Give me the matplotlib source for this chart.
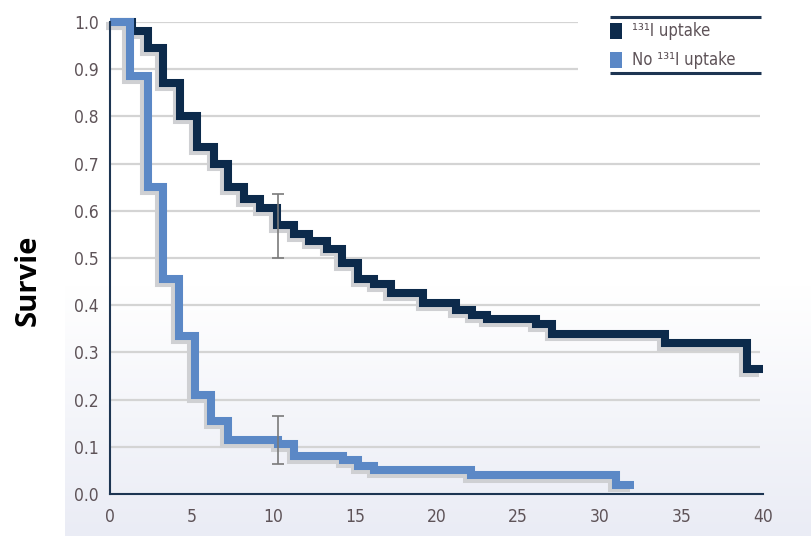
import numpy as np
import matplotlib
matplotlib.use("Agg")
import matplotlib.pyplot as plt
import matplotlib.patheffects as pe
from matplotlib.lines import Line2D
from matplotlib.patches import Rectangle
from matplotlib import font_manager as fm

# Kaplan-Meier step data (time in months, survival fraction)
uptake_t = [0, 1.35, 2.3, 3.25, 4.3, 5.3, 6.4, 7.2, 8.2, 9.2, 10.2, 11.3, 12.2,
            13.3, 14.2, 15.2, 16.2, 17.2, 19.2, 21.2, 22.2, 23.1, 26.1, 27.1,
            34.0, 39.0, 40.0]
uptake_s = [1.0, 0.98, 0.945, 0.87, 0.80, 0.735, 0.70, 0.65, 0.625, 0.605, 0.57,
            0.55, 0.535, 0.52, 0.49, 0.455, 0.445, 0.425, 0.405, 0.39, 0.38,
            0.37, 0.36, 0.34, 0.32, 0.265, 0.265]

no_uptake_t = [0, 1.2, 2.3, 3.25, 4.2, 5.2, 6.2, 7.2, 10.3, 11.3, 14.3, 15.2,
               16.2, 22.1, 31.0, 32.1]
no_uptake_s = [1.0, 0.885, 0.65, 0.455, 0.335, 0.21, 0.155, 0.115, 0.105, 0.08,
               0.072, 0.06, 0.05, 0.04, 0.02, 0.02]

# confidence bars at t = 10.3
ci_t = 10.3
uptake_ci = (0.50, 0.635)
no_uptake_ci = (0.063, 0.165)

x_ticks = [0, 5, 10, 15, 20, 25, 30, 35, 40]
y_ticks = [0.0, 0.1, 0.2, 0.3, 0.4, 0.5, 0.6, 0.7, 0.8, 0.9, 1.0]
legend_labels = ["\u00b9\u00b3\u00b9I uptake", "No \u00b9\u00b3\u00b9I uptake"]

DARK = "#0c2a4b"
BLUE = "#5b88c6"
SHADOW = "#cfd0d3"
GRID = "#d4d4d4"
TEXT = "#5e5358"

# pick a narrow face when one is available
names = {f.name for f in fm.fontManager.ttflist}
cond = [f for f in fm.fontManager.ttflist
        if f.name == "DejaVu Sans" and str(f.stretch) in ("condensed", "semi-condensed")]
if "Liberation Sans Narrow" in names:
    NARROW = dict(family=["Liberation Sans Narrow", "DejaVu Sans"])
elif cond:
    NARROW = dict(family=["DejaVu Sans"], stretch="condensed")
else:
    NARROW = dict(family=["Roboto", "DejaVu Sans"])

W, H = 812, 536
fig = plt.figure(figsize=(W / 100, H / 100), dpi=100)
fig.patch.set_facecolor("white")

# soft background gradient in the lower part of the figure
bg = fig.add_axes([65 / W, 0, 1 - 65 / W, 250 / H], zorder=-5)
grad = np.linspace(0, 1, 256)[:, None]
top = np.array([1.0, 1.0, 1.0])
bot = np.array([0xea, 0xec, 0xf5]) / 255
img = (top * (1 - grad) + bot * grad)[:, None, :].repeat(2, axis=1)
bg.imshow(img, aspect="auto", extent=[0, 1, 0, 1], origin="upper")
bg.set_axis_off()

x0, x1 = 110, 763
y0, y1 = 494, 22
ax = fig.add_axes([x0 / W, 1 - y0 / H, (x1 - x0) / W, (y0 - y1) / H])
ax.patch.set_alpha(0)
ax.set_xlim(0, 40)
ax.set_ylim(0, 1.0)

# horizontal grid (upper lines stop short of the legend)
for y in y_ticks[1:]:
    xe = 28.65 if y >= 0.85 else 39.8
    ax.plot([0, xe], [y, y], color=GRID, lw=1.6, zorder=1, solid_capstyle="butt")

shadow = [pe.SimpleLineShadow(offset=(-2.6, -2.8), shadow_color=SHADOW, alpha=1.0),
          pe.Normal()]

ax.step(uptake_t, uptake_s, where="post", color=DARK, lw=5.8, zorder=3,
        solid_joinstyle="miter", solid_capstyle="butt", path_effects=shadow,
        clip_on=False)
ax.step(no_uptake_t, no_uptake_s, where="post", color=BLUE, lw=5.8, zorder=4,
        solid_joinstyle="miter", solid_capstyle="butt", path_effects=shadow,
        clip_on=False)

for lo, hi in (uptake_ci, no_uptake_ci):
    ax.errorbar([ci_t], [(lo + hi) / 2], yerr=[[(hi - lo) / 2], [(hi - lo) / 2]],
                fmt="none", ecolor="#7a7a7a", elinewidth=1.2, capsize=4,
                capthick=1.2, zorder=5)

for s in ("top", "right"):
    ax.spines[s].set_visible(False)
for s in ("left", "bottom"):
    ax.spines[s].set_color("#1d3552")
    ax.spines[s].set_linewidth(1.5)
    ax.spines[s].set_zorder(6)

ax.set_xticks(x_ticks)
ax.set_yticks(y_ticks)
ax.set_xticklabels([str(v) for v in x_ticks])
ax.set_yticklabels([f"{v:.1f}" for v in y_ticks])
ax.tick_params(axis="both", length=0, labelsize=12.5, labelcolor=TEXT)
ax.tick_params(axis="x", pad=10)
ax.tick_params(axis="y", pad=8)
for lab in ax.get_xticklabels() + ax.get_yticklabels():
    lab.set_family(NARROW["family"])
    if "stretch" in NARROW:
        lab.set_stretch(NARROW["stretch"])

fig.text(28 / W, 1 - 280 / H, "Survie", rotation=90, ha="center", va="center",
         fontsize=21, fontweight="bold", color="black",
         family=["Open Sans", "DejaVu Sans"])

# legend block
for yy in (17, 73):
    fig.add_artist(Line2D([610 / W, 761 / W], [1 - yy / H, 1 - yy / H],
                          color="#1d3552", lw=2.2, solid_capstyle="butt"))
for (yc, col, lab) in ((31, DARK, legend_labels[0]), (60, BLUE, legend_labels[1])):
    fig.add_artist(Rectangle((610 / W, 1 - (yc + 8) / H), 12 / W, 16 / H,
                             facecolor=col, edgecolor="none",
                             transform=fig.transFigure))
    fig.text(632 / W, 1 - yc / H, lab, ha="left", va="center", fontsize=12,
             color=TEXT, **NARROW)

fig.savefig("out.png", dpi=100)
